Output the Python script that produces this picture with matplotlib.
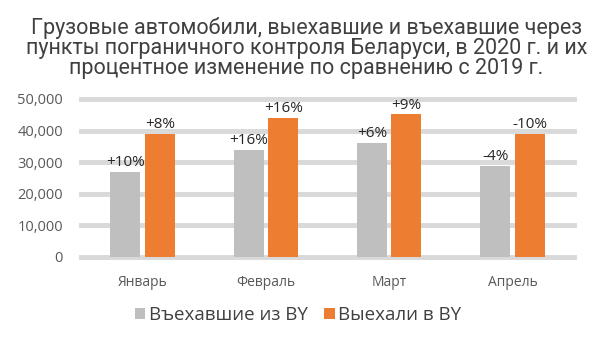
import numpy as np
import matplotlib.pyplot as plt

months = ['Январь', 'Февраль', 'Март', 'Апрель']
entered = [26800, 33800, 36100, 28800]
left_by = [38900, 43900, 45100, 39000]
entered_chg = ['+10%', '+16%', '+6%', '-4%']
left_chg = ['+8%', '+16%', '+9%', '-10%']

plt.rcParams['font.family'] = ['Open Sans', 'DejaVu Sans']

fig = plt.figure(figsize=(6.13, 3.39), dpi=100)
ax = fig.add_axes([81 / 613, 1 - 257 / 339, 493 / 613, 158 / 339])

x = np.arange(len(months))
w = 0.245
b1 = ax.bar(x - 0.14, entered, w, color='#bfbfbf', label='Въехавшие из BY', zorder=3)
b2 = ax.bar(x + 0.14, left_by, w, color='#ed7d31', label='Выехали в BY', zorder=3)

for rect, txt in zip(b1, entered_chg):
    ax.text(rect.get_x() + rect.get_width() / 2, rect.get_height() + 600, txt,
            ha='center', va='bottom', fontsize=11, color='#262626')
for rect, txt in zip(b2, left_chg):
    ax.text(rect.get_x() + rect.get_width() / 2, rect.get_height() + 600, txt,
            ha='center', va='bottom', fontsize=11, color='#262626')

ax.set_xlim(-0.5, 3.5)
ax.set_ylim(0, 50000)
ax.set_yticks(range(0, 50001, 10000))
ax.set_yticklabels([f'{v:,}' for v in range(0, 50001, 10000)], fontsize=10.5, color='#595959')
ax.set_xticks(x)
ax.set_xticklabels(months, fontsize=10, color='#595959')
ax.tick_params(length=0, pad=13)
ax.tick_params(axis='x', pad=13)
ax.grid(axis='y', color='#d9d9d9', linewidth=3.5, zorder=0)
ax.set_axisbelow(True)
for s in ax.spines.values():
    s.set_visible(False)
for line in ax.get_ygridlines():
    line.set_clip_on(False)

fig.text(0.5, 1 - 48 / 339,
         'Грузовые автомобили, выехавшие и въехавшие через\n'
         'пункты пограничного контроля Беларуси, в 2020 г. и их\n'
         'процентное изменение по сравнению с 2019 г.',
         ha='center', va='center', fontsize=15.5, color='#404040',
         family=['Roboto', 'DejaVu Sans'], linespacing=0.95)

fig.legend(handles=[b1, b2], loc='center', bbox_to_anchor=(298 / 613, 1 - 315 / 339),
           ncol=2, frameon=False, fontsize=13.5, handlelength=0.55, handleheight=0.55,
           handletextpad=0.2, columnspacing=0.9, labelcolor='#404040')

fig.savefig('out.png', dpi=100)
